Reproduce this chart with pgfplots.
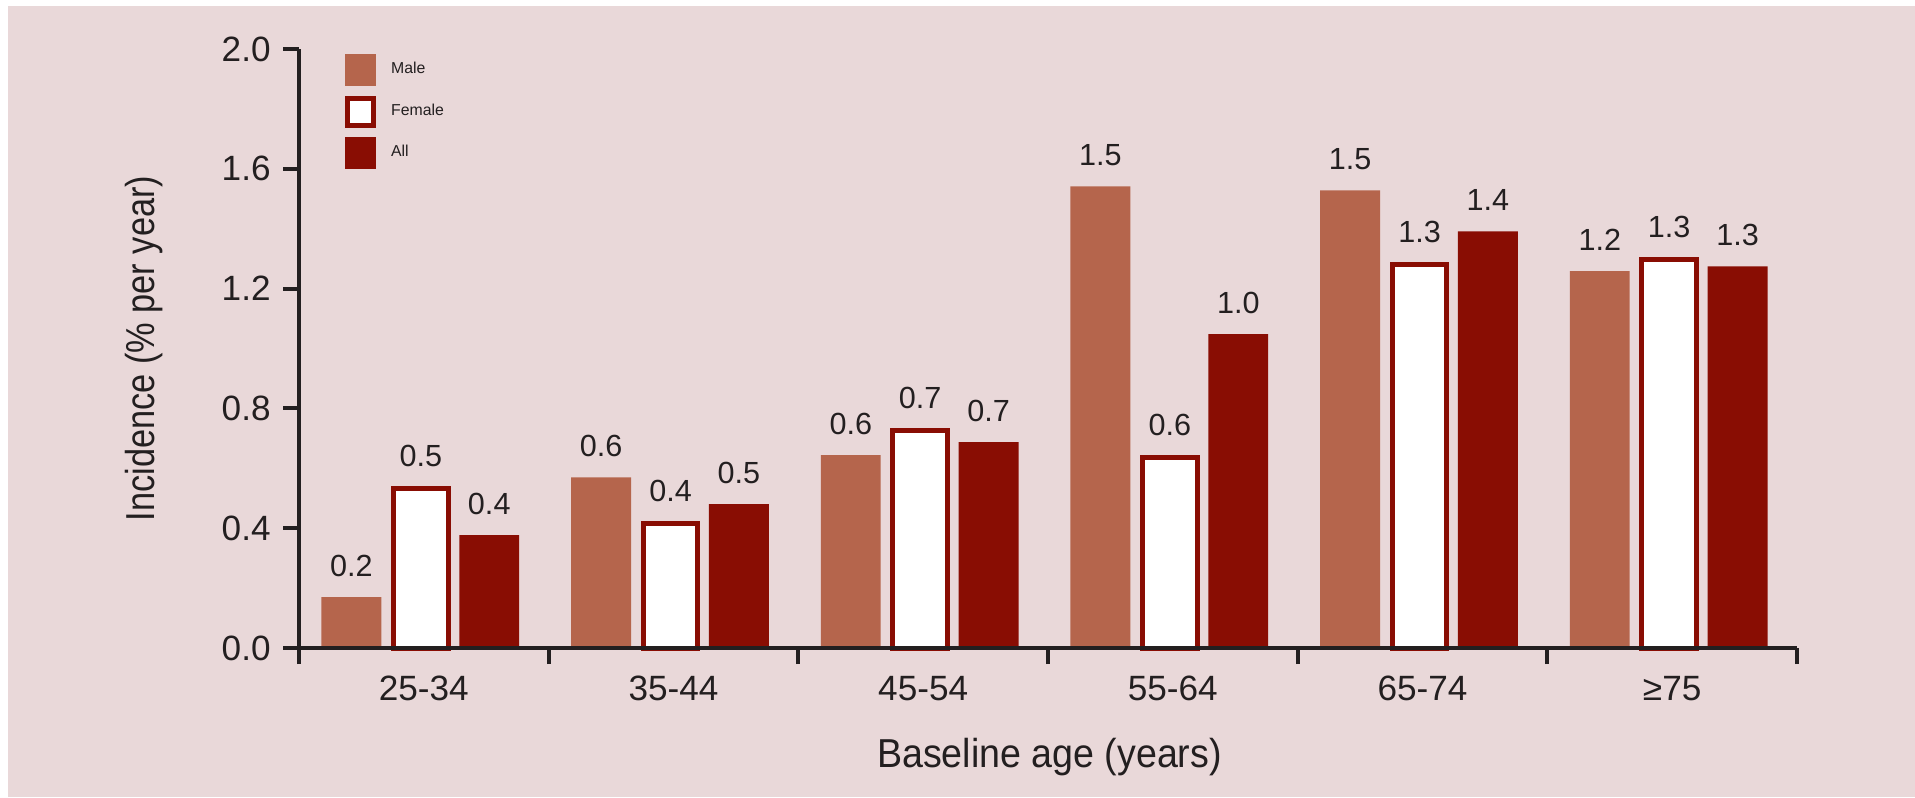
\documentclass[border=0pt]{standalone}
\usepackage{pgfplots}
\pgfplotsset{compat=1.18}
\usepackage{fontspec}
\setmainfont{Liberation Sans}
\newfontfamily\labfont{Liberation Sans}[FakeStretch=0.93]
\newfontfamily\ylabfont{Liberation Sans}[FakeStretch=0.85]
\definecolor{bg}{HTML}{E9D8D9}
\definecolor{male}{HTML}{B5654C}
\definecolor{allc}{HTML}{890D03}
\definecolor{txt}{HTML}{231F20}
\pgfplotsset{
  sqfill/.style={legend image code/.code={\fill[##1] (0mm,-1.6mm) rectangle (3.1mm,1.6mm); \path (3.7mm,0);}},
  sqdraw/.style={legend image code/.code={\filldraw[##1] (0.25mm,-1.35mm) rectangle (2.85mm,1.35mm); \path (3.7mm,0);}}
}
\begin{document}
\begin{tikzpicture}
\path[use as bounding box] (0,0) rectangle (191.5mm,79.7mm);
\fill[white] (0,0) rectangle (191.5mm,79.7mm);
\fill[bg] (0.8mm,0) rectangle (191.5mm,79.1mm);
\begin{axis}[
  at={(29.9mm,14.9mm)}, anchor=south west,
  scale only axis, width=149.8mm, height=59.9mm,
  xmin=-0.5, xmax=5.5, ymin=0, ymax=2,
  axis x line*=bottom, axis y line*=left,
  axis line style={line width=0.4mm, draw=txt, -},
  axis on top, clip=false,
  tick align=outside, major tick length=1.6mm, minor tick length=1.6mm,
  tick style={line width=0.4mm, draw=txt},
  ytick={0,0.4,0.8,1.2,1.6,2.0},
  yticklabel style={/pgf/number format/.cd, fixed, fixed zerofill, precision=1},
  xtick={0,1,2,3,4,5},
  xticklabels={25-34,35-44,45-54,55-64,65-74,≥75},
  major x tick style={draw=none},
  minor xtick={-0.5,0.5,1.5,2.5,3.5,4.5,5.5},
  minor x tick style={line width=0.4mm, draw=txt},
  ticklabel style={font=\fontsize{10}{12}\selectfont, text=txt},
  /pgf/number format/assume math mode=true,
  xlabel={Baseline age (years)},
  ylabel={Incidence (\% per year)},
  xlabel style={at={(axis description cs:0.501,-0.182)}, anchor=center, font=\labfont\fontsize{11.5}{13}\selectfont, text=txt},
  ylabel style={at={(axis description cs:-0.1035,0.5)}, anchor=center, font=\ylabfont\fontsize{11.5}{13}\selectfont, text=txt},
  point meta=explicit symbolic,
  nodes near coords={\pgfplotspointmeta},
  every node near coord/.append style={font=\fontsize{8.7}{10}\selectfont, text=txt, yshift=0.8mm},
  legend style={at={(0.030,0.992)}, anchor=north west, draw=none, fill=none, inner sep=0pt,
    font=\fontsize{4.5}{5.5}\selectfont, text=txt, row sep=0.95mm},
  legend cell align=left,
]
\addplot[ybar, bar width=0.24, bar shift=0pt, fill=male, draw=none, sqfill] coordinates {
  (-0.29,0.170) [0.2] (0.71,0.570) [0.6] (1.71,0.644) [0.6]
  (2.71,1.541) [1.5] (3.71,1.528) [1.5] (4.71,1.258) [1.2]};
\addplot[ybar, bar width=0.22, bar shift=0pt, fill=white, draw=allc, line width=0.5mm, sqdraw] coordinates {
  (-0.012,0.532) [0.5] (0.988,0.415) [0.4] (1.988,0.726) [0.7]
  (2.988,0.636) [0.6] (3.988,1.279) [1.3] (4.988,1.296) [1.3]};
\addplot[ybar, bar width=0.24, bar shift=0pt, fill=allc, draw=none, sqfill] coordinates {
  (0.262,0.377) [0.4] (1.262,0.480) [0.5] (2.262,0.687) [0.7]
  (3.262,1.048) [1.0] (4.262,1.391) [1.4] (5.262,1.274) [1.3]};
\legend{Male,Female,All}
\end{axis}
\end{tikzpicture}
\end{document}
